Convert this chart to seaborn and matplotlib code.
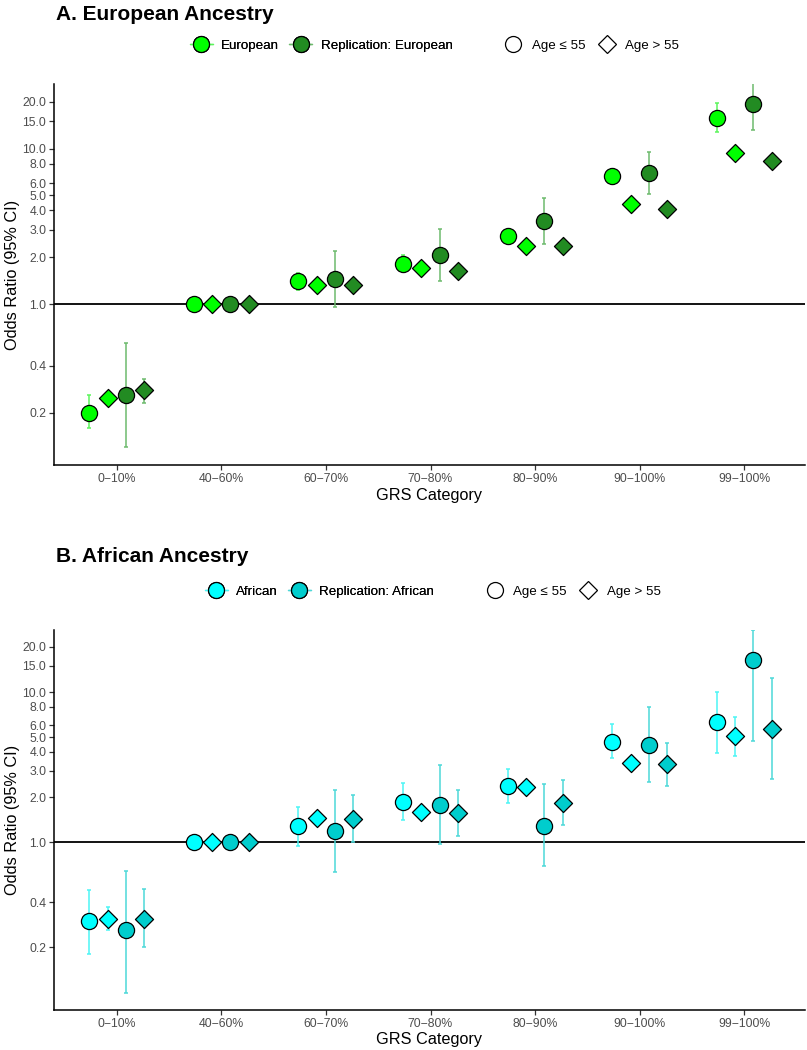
import matplotlib
matplotlib.use("Agg")
import matplotlib.pyplot as plt
from matplotlib.lines import Line2D
from matplotlib.ticker import FixedLocator, FixedFormatter, NullLocator
import seaborn as sns
import pandas as pd

# Categorias do GRS
categories = ["0\u221210%", "40\u221260%", "60\u221270%", "70\u221280%",
              "80\u221290%", "90\u2212100%", "99\u2212100%"]
ytick_values = [0.2, 0.4, 1.0, 2.0, 3.0, 4.0, 5.0, 6.0, 8.0, 10.0, 15.0, 20.0]

# Painel A - European
eur_le55_or = [0.20, 1.0, 1.41, 1.81, 2.74, 6.68, 15.8]
eur_le55_lo = [0.16, 1.0, 1.23, 1.62, 2.50, 6.00, 12.7]
eur_le55_hi = [0.26, 1.0, 1.59, 2.07, 3.00, 7.40, 19.7]
eur_gt55_or = [0.25, 1.0, 1.32, 1.70, 2.37, 4.40, 9.35]
eur_gt55_lo = [0.235, 1.0, 1.24, 1.60, 2.22, 4.10, 8.70]
eur_gt55_hi = [0.27, 1.0, 1.40, 1.81, 2.52, 4.70, 10.0]
repeur_le55_or = [0.26, 1.0, 1.45, 2.07, 3.40, 6.96, 19.5]
repeur_le55_lo = [0.12, 1.0, 0.96, 1.41, 2.43, 5.12, 13.2]
repeur_le55_hi = [0.56, 1.0, 2.20, 3.02, 4.78, 9.45, 27.0]
repeur_gt55_or = [0.28, 1.0, 1.33, 1.64, 2.37, 4.10, 8.30]
repeur_gt55_lo = [0.23, 1.0, 1.24, 1.53, 2.20, 3.80, 7.70]
repeur_gt55_hi = [0.33, 1.0, 1.43, 1.76, 2.55, 4.40, 8.90]

# Painel B - African
afr_le55_or = [0.30, 1.0, 1.28, 1.86, 2.37, 4.67, 6.29]
afr_le55_lo = [0.18, 1.0, 0.95, 1.40, 1.82, 3.64, 3.91]
afr_le55_hi = [0.48, 1.0, 1.73, 2.49, 3.09, 6.10, 10.0]
afr_gt55_or = [0.31, 1.0, 1.46, 1.58, 2.34, 3.37, 5.10]
afr_gt55_lo = [0.26, 1.0, 1.36, 1.48, 2.20, 3.15, 3.75]
afr_gt55_hi = [0.37, 1.0, 1.56, 1.69, 2.50, 3.60, 6.85]
repafr_le55_or = [0.26, 1.0, 1.19, 1.77, 1.29, 4.44, 16.3]
repafr_le55_lo = [0.10, 1.0, 0.63, 0.97, 0.70, 2.53, 4.74]
repafr_le55_hi = [0.64, 1.0, 2.23, 3.28, 2.43, 7.91, 26.0]
repafr_gt55_or = [0.31, 1.0, 1.44, 1.56, 1.84, 3.32, 5.70]
repafr_gt55_lo = [0.20, 1.0, 1.00, 1.10, 1.30, 2.38, 2.64]
repafr_gt55_hi = [0.49, 1.0, 2.05, 2.22, 2.58, 4.60, 12.3]

age_le = "Age \u2264 55"
age_gt = "Age > 55"
offsets = [-0.2625, -0.0875, 0.0875, 0.2625]


def build_frame(series):
    rows = []
    for k, (cohort, age, orv, lo, hi) in enumerate(series):
        for i, cat in enumerate(categories):
            rows.append({"cat": cat, "x": i + offsets[k], "cohort": cohort,
                         "age": age, "OR": orv[i], "lo": lo[i], "hi": hi[i]})
    return pd.DataFrame(rows)


dfA = build_frame([
    ("European", age_le, eur_le55_or, eur_le55_lo, eur_le55_hi),
    ("European", age_gt, eur_gt55_or, eur_gt55_lo, eur_gt55_hi),
    ("Replication: European", age_le, repeur_le55_or, repeur_le55_lo, repeur_le55_hi),
    ("Replication: European", age_gt, repeur_gt55_or, repeur_gt55_lo, repeur_gt55_hi),
])
dfB = build_frame([
    ("African", age_le, afr_le55_or, afr_le55_lo, afr_le55_hi),
    ("African", age_gt, afr_gt55_or, afr_gt55_lo, afr_gt55_hi),
    ("Replication: African", age_le, repafr_le55_or, repafr_le55_lo, repafr_le55_hi),
    ("Replication: African", age_gt, repafr_gt55_or, repafr_gt55_lo, repafr_gt55_hi),
])

palA = {"European": "#00FF00", "Replication: European": "#228B22"}
barA = {"European": "#5CF55C", "Replication: European": "#6DBB6D"}
palB = {"African": "#00FFFF", "Replication: African": "#00CDCD"}
barB = {"African": "#4DF5F5", "Replication: African": "#4DD8D8"}
shape = {age_le: ("o", 135), age_gt: ("D", 85)}

sns.set_theme(style="white")
plt.rcParams['font.family'] = ['Liberation Sans', 'DejaVu Sans']
plt.rcParams['text.color'] = 'black'
plt.rcParams['axes.labelcolor'] = 'black'

fig = plt.figure(figsize=(8.07, 10.5), dpi=100)
axA = fig.add_axes([0.0669, 0.557, 0.9306, 0.3629])
axB = fig.add_axes([0.0669, 0.0381, 0.9306, 0.362])


def draw_panel(ax, df, pal, bars, ylim):
    ax.set_yscale("log")
    ax.axhline(1.0, color="black", lw=1.3, zorder=0)
    for (cohort, age), g in df.groupby(["cohort", "age"], sort=False):
        ax.errorbar(g["x"], g["OR"], yerr=[g["OR"] - g["lo"], g["hi"] - g["OR"]],
                    fmt="none", ecolor=bars[cohort], elinewidth=1.1,
                    capsize=1.5, capthick=1.1, zorder=1)
    for (cohort, age), g in df.groupby(["cohort", "age"], sort=False):
        m, s = shape[age]
        sns.scatterplot(data=g, x="x", y="OR", color=pal[cohort], marker=m, s=s,
                        edgecolor="black", linewidth=0.9, legend=False, ax=ax, zorder=3)
    ax.set_xlim(-0.6, 6.58)
    ax.set_ylim(*ylim)
    ax.set_xticks(range(len(categories)))
    ax.set_xticklabels(categories)
    ax.yaxis.set_major_locator(FixedLocator(ytick_values))
    ax.yaxis.set_major_formatter(FixedFormatter(["%.1f" % v for v in ytick_values]))
    ax.yaxis.set_minor_locator(NullLocator())
    ax.set_xlabel("GRS Category", fontsize=11.7, color="black", labelpad=2)
    ax.set_ylabel("Odds Ratio (95% CI)", fontsize=11.7, color="black", labelpad=2)
    sns.despine(ax=ax)
    for sp in ["left", "bottom"]:
        ax.spines[sp].set_color("black")
        ax.spines[sp].set_linewidth(1.1)
    ax.tick_params(axis="both", bottom=True, left=True, length=3.5, width=0.9,
                   color="#333333", labelsize=8.8, labelcolor="#4D4D4D", pad=2)


def add_legend(pal, bars, y, x1, x2):
    h1 = [Line2D([], [], marker="o", markersize=11.5, markerfacecolor=pal[k],
                 markeredgecolor="black", markeredgewidth=0.9, color=bars[k], lw=1)
          for k in pal]
    leg1 = fig.legend(h1, list(pal), loc="center left", bbox_to_anchor=(x1, y),
                      ncol=2, frameon=False, prop={"size": 9.6}, handlelength=1.7,
                      handletextpad=0.65, columnspacing=0.75, borderpad=0, borderaxespad=0)
    fig.add_artist(leg1)
    h2 = [Line2D([], [], marker="o", markersize=11.5, markerfacecolor="white",
                 markeredgecolor="black", markeredgewidth=0.9, lw=0),
          Line2D([], [], marker="D", markersize=9.5, markerfacecolor="white",
                 markeredgecolor="black", markeredgewidth=0.9, lw=0)]
    fig.legend(h2, [age_le, age_gt], loc="center left", bbox_to_anchor=(x2, y),
               ncol=2, frameon=False, prop={"size": 9.6}, handlelength=1.7,
               handletextpad=0.55, columnspacing=0.75, borderpad=0, borderaxespad=0)


draw_panel(axA, dfA, palA, barA, (0.092, 26))
draw_panel(axB, dfB, palB, barB, (0.0766, 25.9))

fig.text(0.069, 0.981, "A. European Ancestry", fontsize=15, fontweight="bold",
         color="black", va="baseline", ha="left")
fig.text(0.069, 0.4648, "B. African Ancestry", fontsize=15, fontweight="bold",
         color="black", va="baseline", ha="left")
add_legend(palA, barA, 0.9562, 0.2354, 0.6217)
add_legend(palB, barB, 0.4362, 0.254, 0.599)

fig.savefig("out.png", dpi=100)
